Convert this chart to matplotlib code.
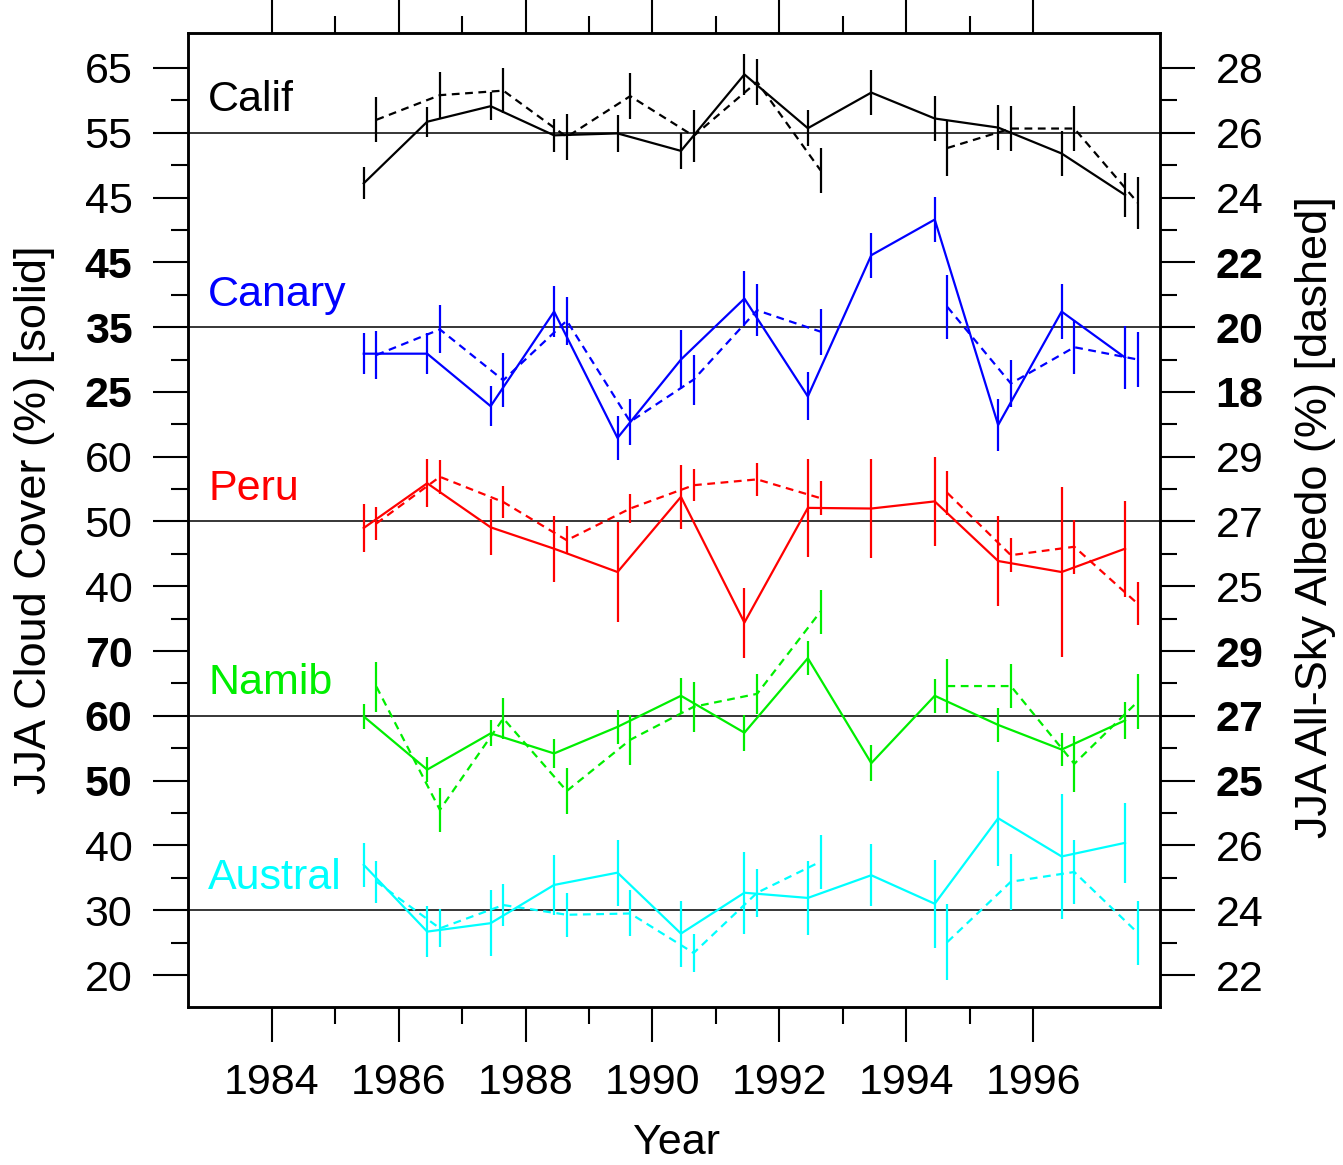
import numpy as np
import matplotlib.pyplot as plt

plt.rcParams['font.family'] = ['Liberation Sans', 'DejaVu Sans']

nan = np.nan
years = np.arange(1985, 1998)

regions = ['Calif', 'Canary', 'Peru', 'Namib', 'Austral']
colors = ['black', 'blue', 'red', '#00ee00', 'cyan']

# value on the horizontal reference line of each panel
cloud_ref = [55, 35, 50, 60, 30]
albedo_ref = [26, 20, 27, 27, 24]

# tick labels of each panel (bottom, middle, top)
cloud_ticks = [['45', '55', '65'], ['25', '35', '45'], ['40', '50', '60'],
               ['50', '60', '70'], ['20', '30', '40']]
albedo_ticks = [['24', '26', '28'], ['18', '20', '22'], ['25', '27', '29'],
                ['25', '27', '29'], ['22', '24', '26']]
bold_panels = ['Canary', 'Namib']

# JJA cloud cover (%) - solid
calif_cloud = [47.2, 56.7, 59.1, 54.6, 54.9, 52.2, 64.0, 55.7, 61.2, 57.2, 55.8, 51.8, 45.4]
calif_cloud_err = [2.5, 2.3, 2.2, 2.5, 2.9, 2.8, 3.1, 2.8, 3.5, 3.5, 3.5, 3.4, 3.4]
canary_cloud = [30.9, 30.9, 22.8, 37.4, 17.9, 30.0, 39.4, 24.3, 46.1, 51.6, 19.9, 37.4, 30.3]
canary_cloud_err = [3.2, 3.2, 3.1, 3.9, 3.4, 4.6, 4.2, 3.7, 3.5, 3.5, 4.0, 4.2, 4.9]
peru_cloud = [49.0, 55.9, 49.1, 45.8, 42.2, 53.8, 34.4, 52.1, 52.0, 53.1, 43.9, 42.2, 45.8]
peru_cloud_err = [3.7, 3.7, 4.3, 5.1, 7.7, 4.9, 5.4, 7.6, 7.6, 6.9, 6.9, 13.1, 7.4]
namib_cloud = [59.9, 51.7, 57.3, 54.2, 58.3, 63.1, 57.4, 68.9, 52.7, 63.1, 58.6, 54.8, 59.3]
namib_cloud_err = [2.0, 1.9, 2.0, 2.2, 2.6, 2.8, 2.8, 2.6, 2.8, 2.6, 2.6, 2.6, 2.8]
austral_cloud = [37.0, 26.7, 28.0, 33.9, 35.8, 26.4, 32.7, 31.9, 35.4, 31.0, 44.2, 38.3, 40.4]
austral_cloud_err = [3.4, 3.9, 5.1, 4.6, 5.1, 5.1, 6.3, 5.7, 4.8, 6.8, 7.3, 9.6, 6.2]

# JJA all-sky albedo (%) - dashed, no 1993 value
calif_albedo = [26.4, 27.16, 27.3, 25.87, 27.13, 25.9, 27.57, 24.84, nan, 25.53, 26.13, 26.13, 23.84]
calif_albedo_err = [0.7, 0.7, 0.7, 0.7, 0.7, 0.8, 0.7, 0.7, nan, 0.85, 0.7, 0.7, 0.8]
canary_albedo = [19.14, 19.93, 18.36, 20.2, 17.08, 18.38, 20.52, 19.86, nan, 20.62, 18.26, 19.38, 19.0]
canary_albedo_err = [0.74, 0.74, 0.83, 0.74, 0.71, 0.77, 0.8, 0.71, nan, 1.0, 0.74, 0.83, 0.86]
peru_albedo = [26.94, 28.38, 27.6, 26.42, 27.4, 28.12, 28.3, 27.72, nan, 27.88, 25.96, 26.22, 24.46]
peru_albedo_err = [0.5, 0.52, 0.5, 0.43, 0.46, 0.5, 0.52, 0.52, nan, 0.68, 0.52, 0.83, 0.66]
namib_albedo = [27.9, 24.1, 26.92, 24.68, 26.26, 27.28, 27.68, 30.22, nan, 27.92, 27.92, 25.52, 27.44]
namib_albedo_err = [0.77, 0.68, 0.62, 0.71, 0.77, 0.77, 0.62, 0.68, nan, 0.83, 0.68, 0.86, 0.86]
austral_albedo = [24.88, 23.44, 24.16, 23.86, 23.9, 22.68, 24.54, 25.5, nan, 23.02, 24.88, 25.18, 23.3]
austral_albedo_err = [0.65, 0.59, 0.65, 0.68, 0.71, 0.59, 0.74, 0.83, nan, 1.17, 0.86, 0.99, 0.99]

cloud = [calif_cloud, canary_cloud, peru_cloud, namib_cloud, austral_cloud]
cloud_err = [calif_cloud_err, canary_cloud_err, peru_cloud_err, namib_cloud_err, austral_cloud_err]
albedo = [calif_albedo, canary_albedo, peru_albedo, namib_albedo, austral_albedo]
albedo_err = [calif_albedo_err, canary_albedo_err, peru_albedo_err, namib_albedo_err, austral_albedo_err]

W, H = 1343, 1165
fig = plt.figure(figsize=(W / 100, H / 100), dpi=100)
ax = fig.add_axes([0.140, 0.1356, 0.7237, 0.8361])

# each panel takes 3 tick steps; one step = 10 % cloud or 2 % albedo
n = len(regions)
for i in range(n):
    centre = 3 * (n - 1 - i) + 1
    col = colors[i]
    yc = centre + (np.array(cloud[i]) - cloud_ref[i]) / 10.0
    ec = np.array(cloud_err[i]) / 10.0
    ya = centre + (np.array(albedo[i]) - albedo_ref[i]) / 2.0
    ea = np.array(albedo_err[i]) / 2.0
    ax.axhline(centre, color='black', lw=1.1, zorder=1)
    ax.errorbar(years + 0.45, yc, yerr=ec, color=col, lw=1.6, elinewidth=1.6, capsize=0, zorder=3)
    ax.errorbar(years + 0.65, ya, yerr=ea, color=col, lw=1.6, elinewidth=1.6, capsize=0,
                linestyle=(0, (3.5, 2.5)), zorder=3)
    ax.text(1983.0, centre + 0.5, regions[i], color=col, fontsize=31, ha='left', va='center')

ax.set_xlim(1982.68, 1998.0)
ax.set_ylim(-0.494, 14.54)

ax.set_xticks(range(1984, 1997, 2))
ax.set_xticks(range(1985, 1996, 2), minor=True)
ax.tick_params(axis='x', which='both', top=True, bottom=True, direction='out', width=1.5,
               labelsize=31, pad=15)
ax.tick_params(axis='x', which='major', length=25)
ax.tick_params(axis='x', which='minor', length=12)

left_labels = []
right_labels = []
weights = []
for i in range(n - 1, -1, -1):
    left_labels += cloud_ticks[i]
    right_labels += albedo_ticks[i]
    weights += ['bold' if regions[i] in bold_panels else 'normal'] * 3

ax.set_yticks(range(15))
ax.set_yticks(np.arange(0.5, 14, 1.0), minor=True)
ax.set_yticklabels(left_labels)
ax.tick_params(axis='y', which='both', left=True, right=False, direction='out', width=1.5,
               labelsize=31, pad=15)
ax.tick_params(axis='y', which='major', length=25)
ax.tick_params(axis='y', which='minor', length=12)
for lab, w in zip(ax.get_yticklabels(), weights):
    lab.set_fontweight(w)

ax2 = ax.twinx()
ax2.set_ylim(ax.get_ylim())
ax2.set_yticks(range(15))
ax2.set_yticks(np.arange(0.5, 14, 1.0), minor=True)
ax2.set_yticklabels(right_labels)
ax2.tick_params(axis='y', which='both', direction='out', width=1.5, labelsize=31, pad=15)
ax2.tick_params(axis='y', which='major', length=25)
ax2.tick_params(axis='y', which='minor', length=12)
for lab, w in zip(ax2.get_yticklabels(), weights):
    lab.set_fontweight(w)

for a in (ax, ax2):
    for s in a.spines.values():
        s.set_linewidth(1.8)

fig.text(676 / W, 1 - 1143 / H, 'Year', fontsize=31, ha='center', va='center')
fig.text(35 / W, 1 - 520 / H, 'JJA Cloud Cover (%) [solid]', fontsize=32.5,
         rotation=90, ha='center', va='center')
fig.text(1315 / W, 1 - 517 / H, 'JJA All-Sky Albedo (%) [dashed]', fontsize=32.5,
         rotation=90, ha='center', va='center')

fig.savefig('out.png', dpi=100)
